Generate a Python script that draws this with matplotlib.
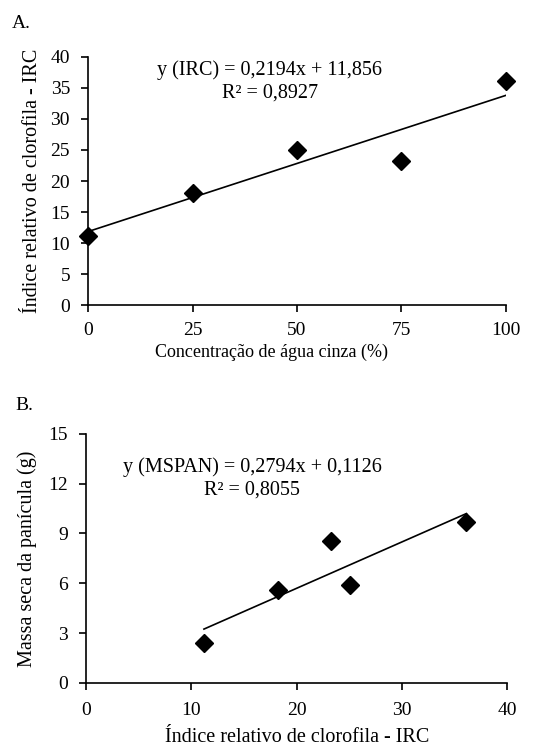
import matplotlib
matplotlib.use("Agg")
import matplotlib.pyplot as plt
import numpy as np

plt.rcParams['font.family'] = ['Liberation Serif', 'DejaVu Serif']
plt.rcParams['font.size'] = 14

# A. IRC vs grey water concentration
conc = [0, 25, 50, 75, 100]
irc = [11.2, 18.0, 25.0, 23.3, 36.1]
slope_a, icpt_a = 0.2194, 11.856

# B. panicle dry mass vs IRC
irc_b = [11.2, 18.2, 23.3, 25.1, 36.1]
mspan = [2.4, 5.6, 8.55, 5.9, 9.7]
slope_b, icpt_b = 0.2794, 0.1126

fig = plt.figure(figsize=(5.37, 7.48), dpi=100)
axA = fig.add_axes([0.164, 0.592, 0.778, 0.332])
axB = fig.add_axes([0.160, 0.087, 0.785, 0.333])


def style(ax, xpad):
    for s in ['top', 'right']:
        ax.spines[s].set_visible(False)
    for s in ['left', 'bottom']:
        ax.spines[s].set_linewidth(1.2)
    ax.tick_params(direction='out', length=5, width=1.2, labelsize=14)
    ax.tick_params(axis='y', pad=8)
    ax.tick_params(axis='x', pad=xpad)


# panel A
xa = np.array([0, 100])
axA.plot(xa, slope_a * xa + icpt_a, color='black', lw=1.2, zorder=2)
axA.plot(conc, irc, 'D', color='black', ms=9, zorder=3, clip_on=False)
axA.set_xlim(0, 100)
axA.set_ylim(0, 40)
axA.set_xticks([0, 25, 50, 75, 100])
axA.set_yticks(range(0, 41, 5))
axA.set_xlabel('Concentração de água cinza (%)', fontsize=13)
axA.xaxis.set_label_coords(0.44, -0.155)
axA.set_ylabel('Índice relativo de clorofila - IRC', fontsize=14.5, labelpad=6)
axA.text(43.5, 37.9, 'y (IRC) = 0,2194x + 11,856', ha='center', va='center',
         fontsize=14.5)
axA.text(43.5, 34.2, 'R² = 0,8927', ha='center', va='center', fontsize=14.5)
style(axA, 7)
fig.text(0.022, 0.968, 'A.', fontsize=14, va='center')

# panel B
xb = np.array([min(irc_b), max(irc_b)])
axB.plot(xb, slope_b * xb + icpt_b, color='black', lw=1.2, zorder=2)
axB.plot(irc_b, mspan, 'D', color='black', ms=9, zorder=3, clip_on=False)
axB.set_xlim(0, 40)
axB.set_ylim(0, 15)
axB.set_xticks(range(0, 41, 10))
axB.set_yticks(range(0, 16, 3))
axB.set_xlabel('Índice relativo de clorofila - IRC', fontsize=14.5, labelpad=6)
axB.set_ylabel('Massa seca da panícula (g)', fontsize=14.5, labelpad=8)
axB.text(15.8, 13.0, 'y (MSPAN) = 0,2794x + 0,1126', ha='center', va='center',
         fontsize=14.5)
axB.text(15.8, 11.6, 'R² = 0,8055', ha='center', va='center', fontsize=14.5)
style(axB, 9)
fig.text(0.028, 0.458, 'B.', fontsize=14, va='center')

fig.savefig('out.png', dpi=100, facecolor='white')
